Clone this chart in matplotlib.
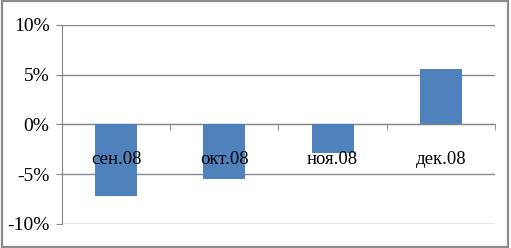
import matplotlib
matplotlib.use("Agg")
import matplotlib.pyplot as plt
from matplotlib.ticker import FuncFormatter, FixedLocator, NullFormatter
from matplotlib.patches import Rectangle
from matplotlib.transforms import offset_copy

categories = ["сен.08", "окт.08", "ноя.08", "дек.08"]
values = [-7.2, -5.5, -2.9, 5.6]
yticks = [-10, -5, 0, 5, 10]

plt.rcParams['font.family'] = ['Liberation Serif', 'DejaVu Serif']

fig = plt.figure(figsize=(5.11, 2.48), dpi=100)
fig.patch.set_facecolor("white")
fig.patches.append(Rectangle((0.003, 0.006), 0.992, 0.99, transform=fig.transFigure,
                             fill=False, edgecolor="#8c8c8c", linewidth=1.6))
ax = fig.add_axes([0.1213, 0.0968, 0.8474, 0.8036])

grid_c = "#868686"
x = list(range(len(categories)))
ax.bar(x, values, width=0.39, color="#4F81BD", zorder=3)

ax.set_xlim(-0.5, 3.5)
ax.set_ylim(-10, 10)
ax.set_yticks(yticks)
ax.yaxis.set_major_formatter(FuncFormatter(lambda v, p: f"{v:.0f}%"))
ax.yaxis.grid(True, color=grid_c, linewidth=1.0, zorder=0)
ax.tick_params(axis="y", length=4, color=grid_c, labelsize=14, pad=5)

for s in ["top", "right"]:
    ax.spines[s].set_visible(False)
ax.spines["left"].set_color(grid_c)
ax.spines["bottom"].set_position(("data", 0))
ax.spines["bottom"].set_color(grid_c)

ax.xaxis.set_major_locator(FixedLocator([]))
ax.xaxis.set_minor_locator(FixedLocator([0.5, 1.5, 2.5, 3.5]))
ax.xaxis.set_minor_formatter(NullFormatter())
ax.tick_params(axis="x", which="minor", length=4, color=grid_c, direction="out")

tr = offset_copy(ax.transData, fig=fig, x=0, y=-25, units="points")
for xi, lab in zip(x, categories):
    ax.text(xi, 0, lab, transform=tr, ha="center", va="center",
            fontsize=13.5, zorder=6)

fig.savefig("out.png", dpi=100)
